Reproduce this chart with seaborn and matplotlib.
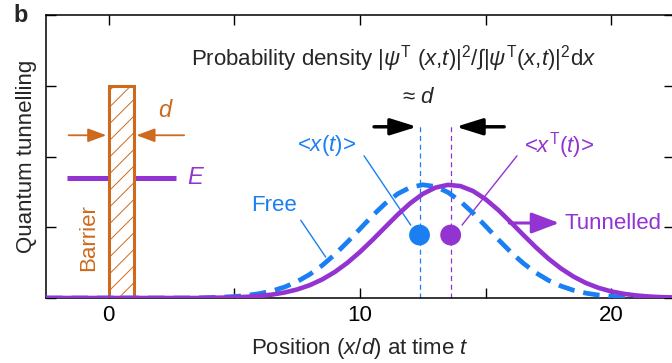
import matplotlib
matplotlib.use("Agg")
import numpy as np
import pandas as pd
import seaborn as sns
import matplotlib.pyplot as plt
from matplotlib.patches import Rectangle

# ---------------- data ----------------
positions = [-2.5, 3.5, 4.0, 4.5, 5.0, 5.5, 6.0, 6.5, 7.0, 7.5, 8.0, 8.5, 9.0, 9.5,
             10.0, 10.5, 11.0, 11.5, 12.0, 12.5, 13.0, 13.5, 14.0, 14.5, 15.0,
             15.5, 16.0, 16.5, 17.0, 17.5, 18.0, 18.5, 19.0, 19.5, 20.0, 20.5,
             21.0, 21.5, 22.0, 22.5]
free_density = [0.0, 0.0, 0.006, 0.012, 0.021, 0.037, 0.062, 0.100, 0.155, 0.232,
                0.334, 0.462, 0.616, 0.791, 0.977, 1.164, 1.334, 1.472, 1.564,
                1.600, 1.576, 1.494, 1.365, 1.200, 1.016, 0.828, 0.650, 0.491,
                0.357, 0.250, 0.169, 0.109, 0.068, 0.041, 0.024, 0.013, 0.007,
                0.003, 0.001, 0.000]
tunnelled_density = [0.0, 0.0, 0.003, 0.005, 0.009, 0.017, 0.029, 0.048, 0.078,
                     0.121, 0.181, 0.263, 0.368, 0.498, 0.651, 0.821, 1.000, 1.178,
                     1.339, 1.471, 1.560, 1.599, 1.582, 1.512, 1.396, 1.245, 1.072,
                     0.892, 0.717, 0.556, 0.417, 0.302, 0.211, 0.143, 0.093, 0.059,
                     0.036, 0.021, 0.012, 0.007]
series_names = ["Free", "Tunnelled"]
mean_positions = [12.37, 13.61]          # <x(t)>, <x^T(t)>
mean_marker_level = 0.89
mean_line_top = 2.44
barrier_start, barrier_width, barrier_height = 0.0, 1.0, 3.0
energy_level = 1.70
energy_span = [-1.67, 2.67]
x_ticks = [0, 5, 10, 15, 20]
x_tick_labels = ["0", "", "10", "", "20"]
y_ticks = [0, 1, 2, 3, 4]

BLUE = "#1a7ff2"
PURPLE = "#9233d2"
ORANGE = "#cd6a1e"
FS = 16

df = pd.DataFrame({
    "x": positions * 2,
    "density": free_density + tunnelled_density,
    "wave": [series_names[0]] * len(positions) + [series_names[1]] * len(positions),
})

# ---------------- style ----------------
sns.set_style("ticks")
plt.rcParams["font.family"] = ["Liberation Sans", "DejaVu Sans"]
plt.rcParams["mathtext.fontset"] = "custom"
plt.rcParams["mathtext.rm"] = "Liberation Sans"
plt.rcParams["mathtext.it"] = "Liberation Sans:italic"
plt.rcParams["mathtext.bf"] = "Liberation Sans:bold"
plt.rcParams["hatch.linewidth"] = 0.7

fig = plt.figure(figsize=(6.72, 3.63), dpi=100)
ax = fig.add_axes([46 / 672, 1 - 298 / 363, 628 / 672, 283 / 363])

# curves
sns.lineplot(data=df[df.wave == "Free"], x="x", y="density", color=BLUE,
             lw=3.4, ax=ax, zorder=4, legend=False)
ax.lines[-1].set_dashes((3.5, 1.9))
sns.lineplot(data=df[df.wave == "Tunnelled"], x="x", y="density", color=PURPLE,
             lw=3.3, ax=ax, zorder=5, legend=False)

# mean positions
ax.vlines(mean_positions, 0, mean_line_top, colors=[BLUE, PURPLE], lw=0.9,
          linestyles=[(0, (4, 3))], zorder=2)
sns.scatterplot(x=mean_positions, y=[mean_marker_level] * 2, hue=series_names,
                palette=[BLUE, PURPLE], s=225, edgecolor="none", legend=False,
                ax=ax, zorder=6)

# energy level and barrier
ax.hlines(energy_level, energy_span[0], energy_span[1], color=PURPLE, lw=3.6, zorder=2)
ax.add_patch(Rectangle((barrier_start, 0), barrier_width, barrier_height,
                       facecolor="white", edgecolor=ORANGE, hatch="//", lw=2.2,
                       zorder=3))
ax.text(-0.8, 0.85, "Barrier", rotation=90, color=ORANGE, fontsize=FS,
        ha="center", va="center")
ax.text(3.47, energy_level, "$E$", color=PURPLE, fontsize=FS + 1, ha="center", va="center")
ax.text(2.27, 2.64, "$d$", color=ORANGE, fontsize=FS + 1, ha="center", va="center")
d_arrow = dict(arrowstyle="-|>,head_length=0.75,head_width=0.28", color=ORANGE,
               lw=1.3, shrinkA=0, shrinkB=0, mutation_scale=15)
ax.annotate("", xy=(barrier_start - 0.1, 2.3), xytext=(-1.6, 2.3), arrowprops=d_arrow)
ax.annotate("", xy=(barrier_start + barrier_width + 0.1, 2.3), xytext=(3.0, 2.3),
            arrowprops=d_arrow)

# title text
ax.text(11.33, 3.39,
        r"Probability density |$\psi^{\mathrm{T}}$ ($x$,$t$)|$^{2}$/∫|$\psi^{\mathrm{T}}$($x$,$t$)|$^{2}$d$x$",
        fontsize=FS, ha="center", va="center")
ax.text(12.35, 2.83, r"≈ $d$", fontsize=FS, ha="center", va="center")
k_arrow = dict(arrowstyle="-|>,head_length=0.8,head_width=0.25", color="black",
               lw=2.5, shrinkA=0, shrinkB=0, mutation_scale=20)
ax.annotate("", xy=(12.27, 2.42), xytext=(10.56, 2.42), arrowprops=k_arrow)
ax.annotate("", xy=(13.82, 2.42), xytext=(15.74, 2.42), arrowprops=k_arrow)

# labels for means
ax.text(8.65, 2.15, r"<$x$($t$)>", color=BLUE, fontsize=FS, ha="center", va="center")
ax.text(17.93, 2.15, r"<$x^{\mathrm{T}}$($t$)>", color=PURPLE, fontsize=FS,
        ha="center", va="center")
ax.plot([10.16, 12.02], [2.01, 1.03], color=BLUE, lw=1.0)
ax.plot([16.25, 14.06], [2.01, 1.03], color=PURPLE, lw=1.0)

# Free / Tunnelled labels
ax.text(6.57, 1.31, "Free", color=BLUE, fontsize=FS, ha="center", va="center")
ax.plot([7.64, 8.63], [1.10, 0.58], color=BLUE, lw=1.0)
ax.annotate("", xy=(17.93, 1.06), xytext=(15.94, 1.06),
            arrowprops=dict(arrowstyle="-|>,head_length=0.85,head_width=0.32",
                            color=PURPLE, lw=2.2, shrinkA=0, shrinkB=0,
                            mutation_scale=20), zorder=6)
ax.text(18.13, 1.06, "Tunnelled", color=PURPLE, fontsize=FS, ha="left", va="center")

# axes
ax.set_xlim(-2.5, 22.5)
ax.set_ylim(0, 4)
ax.set_xticks(x_ticks)
ax.set_xticklabels(x_tick_labels)
ax.set_yticks(y_ticks)
ax.set_yticklabels([])
ax.tick_params(direction="in", length=7, width=1, top=True, right=True,
               labelsize=FS, pad=5, colors="black")
for s in ax.spines.values():
    s.set_linewidth(1.1)
    s.set_color("black")
ax.set_xlabel(r"Position ($x$/$d$) at time $t$", fontsize=FS)
ax.set_ylabel("Quantum tunnelling", fontsize=FS)
ax.xaxis.set_label_coords(0.5, -0.135)
ax.yaxis.set_label_coords(-0.014, 0.5)

fig.text(21 / 672, 1 - 15 / 363, "b", fontsize=17, fontweight="bold",
         ha="center", va="center")

fig.savefig("out.png", dpi=100)
